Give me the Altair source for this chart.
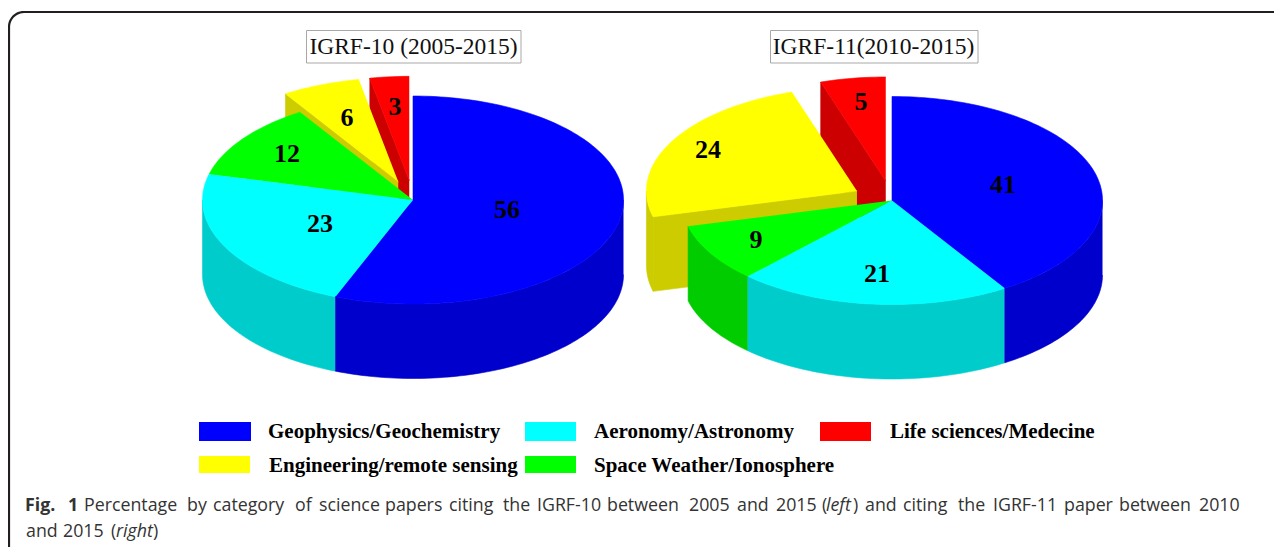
import math
import altair as alt
import pandas as pd

# ---- data ----
categories = ["Geophysics/Geochemistry", "Aeronomy/Astronomy", "Space Weather/Ionosphere",
              "Engineering/remote sensing", "Life sciences/Medecine"]
igrf10 = [56, 23, 12, 6, 3]
igrf11 = [41, 21, 9, 24, 5]
title10 = "IGRF-10 (2005-2015)"
title11 = "IGRF-11(2010-2015)"

# ---- styling / layout ----
top_colors = ["#0000ff", "#00ffff", "#00ff00", "#ffff00", "#ff0000"]
side_colors = ["#0000cc", "#00cccc", "#00cc00", "#cccc00", "#cc0000"]
exploded = [False, False, False, True, True]
RX, RY, DEPTH, EXPLODE = 210.5, 104.0, 74.5, 0.19
pies = [(413.0, 200.0), (892.0, 200.5)]
label_pos = [
    [(507, 210), (320, 224), (287, 154), (347, 118), (395, 107)],
    [(1003, 185), (877, 274), (756, 240), (708, 150), (861, 102)],
]

rows = []
def add_poly(name, pts, color):
    for i, (x, y) in enumerate(pts):
        rows.append({"poly": name, "i": i, "x": x, "y": y, "fill": color})

def arc(cx, cy, t0, t1, dy=0.0):
    n = max(2, int(abs(t1 - t0) / 1.5))
    out = []
    for k in range(n + 1):
        t = math.radians(t0 + (t1 - t0) * k / n)
        out.append((cx + RX * math.sin(t), cy - RY * math.cos(t) + dy))
    return out

def build_pie(tag, center, values):
    total = sum(values)
    slices = []
    acc = 0
    for j, v in enumerate(values):
        slices.append((j, acc / total * 360, (acc + v) / total * 360))
        acc += v
    order = [s for s in reversed(slices) if exploded[s[0]]] + \
            [s for s in reversed(slices) if not exploded[s[0]]]
    for j, t0, t1 in order:
        cx, cy = center
        if exploded[j]:
            tm = math.radians((t0 + t1) / 2)
            cx += RX * EXPLODE * math.sin(tm)
            cy -= RY * EXPLODE * math.cos(tm)
            if math.sin(math.radians(t0)) < 0:
                o = arc(cx, cy, t0, t0)[0]
                add_poly(f"{tag}-{j}-cut0", [(cx, cy), o, (o[0], o[1] + DEPTH), (cx, cy + DEPTH)], side_colors[j])
            if math.sin(math.radians(t1)) > 0:
                o = arc(cx, cy, t1, t1)[0]
                add_poly(f"{tag}-{j}-cut1", [(cx, cy), o, (o[0], o[1] + DEPTH), (cx, cy + DEPTH)], side_colors[j])
        a, b = max(t0, 90), min(t1, 270)
        if a < b:
            add_poly(f"{tag}-{j}-side", arc(cx, cy, a, b) + arc(cx, cy, b, a, DEPTH), side_colors[j])
        add_poly(f"{tag}-{j}-top", [(cx, cy)] + arc(cx, cy, t0, t1), top_colors[j])

build_pie("a", pies[0], igrf10)
build_pie("b", pies[1], igrf11)
shapes = pd.DataFrame(rows)

PLOT_W, PLOT_H = 1266, 539
X = alt.X("x:Q", scale=alt.Scale(domain=[8, 8 + PLOT_W], zero=False, nice=False), axis=None)
Y = alt.Y("y:Q", scale=alt.Scale(domain=[8 + PLOT_H, 8], zero=False, nice=False), axis=None)

pie_layer = alt.Chart(shapes).mark_line(strokeWidth=0.6).encode(
    x=X, y=Y, detail="poly:N", order="i:Q",
    fill=alt.Fill("fill:N", scale=None), stroke=alt.Stroke("fill:N", scale=None),
)

r = 15
frame_pts = [(9.0, 8.0 + PLOT_H)]
for k in range(0, 13):
    a = math.radians(180 + 90 * k / 12)
    frame_pts.append((9 + r + r * math.cos(a), 12 + r + r * math.sin(a)))
frame_pts.append((8.0 + PLOT_W, 12.0))
frame = alt.Chart(pd.DataFrame([{"x": p[0], "y": p[1], "i": i} for i, p in enumerate(frame_pts)])).mark_line(
    color="#231f20", strokeWidth=2.2).encode(x=X, y=Y, order="i:Q")

boxes = pd.DataFrame([
    {"x": 306.5, "x2": 521, "y": 30.5, "y2": 63},
    {"x": 770.5, "x2": 978, "y": 30.5, "y2": 63},
])
box_layer = alt.Chart(boxes).mark_rect(fill="white", stroke="#a8a8a8", strokeWidth=1).encode(
    x=X, x2="x2:Q", y=Y, y2="y2:Q")

def texts(items, **kw):
    df = pd.DataFrame(items, columns=["x", "y", "t"])
    return alt.Chart(df).mark_text(**kw).encode(x=X, y=Y, text="t:N")

title_layer = texts([(413.5, 47, title10), (873.5, 47, title11)],
                    font="Liberation Serif", fontSize=23.5, color="#111111", align="center", baseline="middle")

val_items = []
for pos, vals in zip(label_pos, (igrf10, igrf11)):
    for (x, y), v in zip(pos, vals):
        val_items.append((x, y, str(v)))
val_layer = texts(val_items, font="Liberation Serif", fontWeight="bold", fontSize=26, color="black",
                  align="center", baseline="middle")

sw = pd.DataFrame([
    {"x": 199, "x2": 251, "y": 422, "y2": 441, "c": top_colors[0]},
    {"x": 525, "x2": 576, "y": 422, "y2": 441, "c": top_colors[1]},
    {"x": 820, "x2": 871, "y": 422, "y2": 441, "c": top_colors[4]},
    {"x": 199, "x2": 250, "y": 456, "y2": 473, "c": top_colors[3]},
    {"x": 525, "x2": 576, "y": 456, "y2": 473, "c": top_colors[2]},
])
sw_layer = alt.Chart(sw).mark_rect().encode(x=X, x2="x2:Q", y=Y, y2="y2:Q", fill=alt.Fill("c:N", scale=None))
leg_layer = texts([
    (268, 432, categories[0]), (594, 432, categories[1]), (890, 432, categories[4]),
    (269, 466, categories[3]), (594, 466, categories[2]),
], font="Liberation Serif", fontWeight="bold", fontSize=21, color="black", align="left", baseline="middle")

cap_font = dict(font="Open Sans", fontSize=17.8, color="#333333", align="left", baseline="alphabetic")
BASE1, BASE2 = 511, 537
cap_bold = texts([(25, BASE1, "Fig."), (68, BASE1, "1")], fontWeight="bold", **cap_font)
cap_reg = texts([
    (84, BASE1, "Percentage"), (187, BASE1, "by"), (213, BASE1, "category"), (295, BASE1, "of"),
    (319, BASE1, "science"), (385, BASE1, "papers"), (449, BASE1, "citing"), (503, BASE1, "the"),
    (537, BASE1, "IGRF-10"), (607, BASE1, "between"), (689, BASE1, "2005"), (737, BASE1, "and"),
    (776, BASE1, "2015"), (822, BASE1, "("), (853, BASE1, ")"),
    (865, BASE1, "and"), (903, BASE1, "citing"), (958, BASE1, "the"), (993, BASE1, "IGRF-11"),
    (1064, BASE1, "paper"), (1119, BASE1, "between"), (1199, BASE1, "2010"),
    (26, BASE2, "and"), (63, BASE2, "2015"), (111, BASE2, "("), (153, BASE2, ")"),
], **cap_font)
cap_it = texts([(826, BASE1, "left"), (116, BASE2, "right")], fontStyle="italic", **cap_font)

chart = alt.layer(frame, pie_layer, box_layer, title_layer, val_layer, sw_layer, leg_layer,
                  cap_bold, cap_reg, cap_it).properties(
    width=PLOT_W, height=PLOT_H, padding=0,
    autosize=alt.AutoSizeParams(type="none", contains="padding"),
    background="white",
).configure_view(stroke=None)

chart.save("out.html", embed_options={"renderer": "svg", "actions": False})
